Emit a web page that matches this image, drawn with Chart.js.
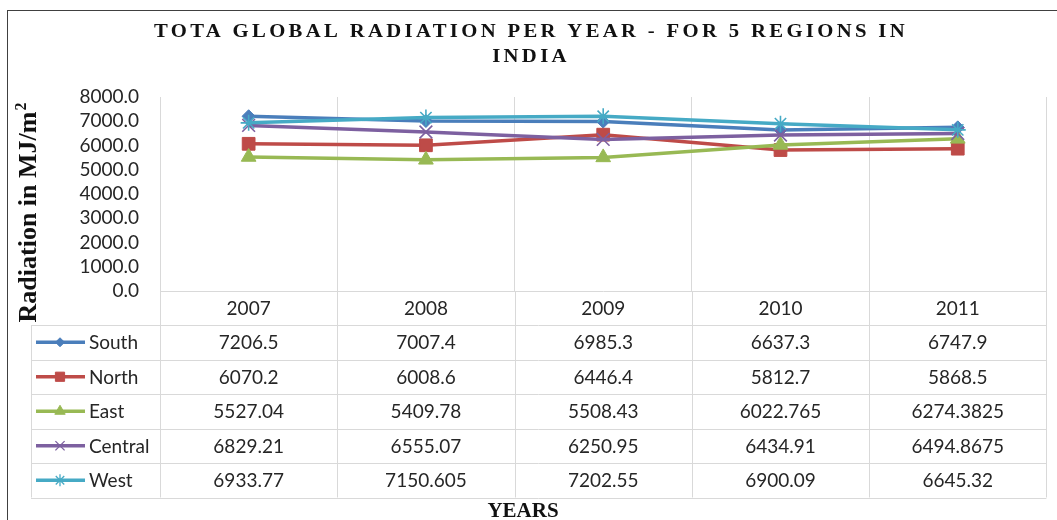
<!DOCTYPE html>
<html>
<head>
<meta charset="utf-8">
<title>Tota global radiation per year</title>
<script src="https://cdn.jsdelivr.net/npm/chart.js@4.4.0/dist/chart.umd.min.js"></script>
<style>
  body { margin: 0; background: #fff; }
  #wrap { width: 1057px; height: 520px; }
</style>
</head>
<body>
<div id="wrap"><canvas id="radChart" width="1057" height="520"></canvas></div>
<script>
const years = ['2007', '2008', '2009', '2010', '2011'];
const regions = ['South', 'North', 'East', 'Central', 'West'];
const south = [7206.5, 7007.4, 6985.3, 6637.3, 6747.9];
const north = [6070.2, 6008.6, 6446.4, 5812.7, 5868.5];
const east = [5527.04, 5409.78, 5508.43, 6022.765, 6274.3825];
const central = [6829.21, 6555.07, 6250.95, 6434.91, 6494.8675];
const west = [6933.77, 7150.605, 7202.55, 6900.09, 6645.32];
const yTicks = [0, 1000, 2000, 3000, 4000, 5000, 6000, 7000, 8000];

const seriesValues = [south, north, east, central, west];
const colors = ['#4A7EBB', '#BE4B48', '#98B954', '#7D60A0', '#46AAC5'];
const markers = ['rectRot', 'rect', 'triangle', 'crossRot', 'star'];
const markerSize = [6.5, 9, 8.5, 9, 8];
const keySize = [4.5, 6.5, 6, 6.5, 6];

const textFont = '"Lato", "Liberation Sans", sans-serif';
const serifFont = '"Liberation Serif", "DejaVu Serif", serif';
const textColor = '#262626';
const tableLine = '#D9D9D9';

const isLineMarker = m => m === 'crossRot' || m === 'star';

const datasets = regions.map((name, i) => ({
    label: name,
    data: seriesValues[i],
    borderColor: colors[i],
    backgroundColor: colors[i],
    borderWidth: 3.5,
    pointStyle: markers[i],
    pointRadius: markerSize[i],
    pointHoverRadius: markerSize[i],
    pointBorderWidth: isLineMarker(markers[i]) ? 1.6 : 1,
    pointBackgroundColor: colors[i],
    pointBorderColor: colors[i],
    tension: 0,
    order: regions.length - i   // West fica por cima, como no Excel
}));

// titulos, borda externa e tabela de dados
const tablePlugin = {
    id: 'dataTable',
    afterDraw(chart) {
        const ctx = chart.ctx;
        const area = chart.chartArea;
        const xs = chart.scales.x;
        const headerH = 34;
        const rowH = 34.5;
        const tableLeft = 31;
        const top = area.bottom;
        const bottom = top + headerH + rowH * regions.length;

        ctx.save();

        // borda externa
        ctx.strokeStyle = '#404040';
        ctx.lineWidth = 1;
        ctx.strokeRect(7.5, 10.5, 1060, 530);

        // linhas da tabela
        ctx.strokeStyle = tableLine;
        ctx.lineWidth = 1;
        ctx.beginPath();
        for (let r = 0; r <= regions.length; r++) {
            const y = Math.round(top + headerH + r * rowH) + 0.5;
            ctx.moveTo(tableLeft, y);
            ctx.lineTo(area.right, y);
        }
        const colW = (area.right - area.left) / years.length;
        for (let c = 0; c <= years.length; c++) {
            const x = Math.round(area.left + c * colW) + 0.5;
            ctx.moveTo(x, top);
            ctx.lineTo(x, bottom);
        }
        ctx.moveTo(tableLeft + 0.5, top + headerH);
        ctx.lineTo(tableLeft + 0.5, bottom);
        ctx.stroke();

        // cabecalho com os anos
        ctx.fillStyle = textColor;
        ctx.font = '19px ' + textFont;
        ctx.textAlign = 'center';
        ctx.textBaseline = 'middle';
        years.forEach((yr, c) => {
            ctx.fillText(yr, xs.getPixelForValue(c), top + headerH / 2 + 1);
        });

        // linhas com legenda e valores
        regions.forEach((name, r) => {
            const cy = top + headerH + r * rowH + rowH / 2;
            ctx.strokeStyle = colors[r];
            ctx.fillStyle = colors[r];
            ctx.lineWidth = 3.5;
            ctx.beginPath();
            ctx.moveTo(36, cy);
            ctx.lineTo(85, cy);
            ctx.stroke();
            ctx.lineWidth = isLineMarker(markers[r]) ? 1.3 : 1;
            Chart.helpers.drawPoint(ctx, {
                pointStyle: markers[r],
                radius: keySize[r],
                rotation: 0,
                borderWidth: ctx.lineWidth
            }, 60, cy);

            ctx.fillStyle = textColor;
            ctx.textAlign = 'left';
            ctx.fillText(name, 89, cy + 1);
            ctx.textAlign = 'center';
            seriesValues[r].forEach((v, c) => {
                ctx.fillText(String(v), xs.getPixelForValue(c), cy + 1);
            });
        });

        // titulo principal (letras mais largas e espacadas)
        ctx.save();
        ctx.fillStyle = '#111';
        ctx.font = 'bold 18px ' + serifFont;
        ctx.letterSpacing = '2.9px';
        ctx.textAlign = 'center';
        ctx.textBaseline = 'alphabetic';
        ctx.translate(531, 0);
        ctx.scale(1.15, 1);
        ctx.fillText('TOTA GLOBAL RADIATION PER YEAR - FOR 5 REGIONS IN', 0, 37);
        ctx.fillText('INDIA', 0, 62);
        ctx.restore();

        // titulo do eixo x
        ctx.fillStyle = '#111';
        ctx.textAlign = 'center';
        ctx.textBaseline = 'alphabetic';
        ctx.font = 'bold 21px ' + serifFont;
        ctx.fillText('YEARS', 523, 517);

        // titulo do eixo y (com expoente)
        ctx.translate(36, 213);
        ctx.rotate(-Math.PI / 2);
        ctx.font = 'bold 26px ' + serifFont;
        const main = 'Radiation in MJ/m';
        const wMain = ctx.measureText(main).width;
        ctx.font = 'bold 16px ' + serifFont;
        const wSup = ctx.measureText('2').width;
        const x0 = -(wMain + wSup) / 2;
        ctx.font = 'bold 26px ' + serifFont;
        ctx.textAlign = 'left';
        ctx.fillText(main, x0, 0);
        ctx.font = 'bold 16px ' + serifFont;
        ctx.fillText('2', x0 + wMain + 1, -10);

        ctx.restore();
    }
};

const ctx = document.getElementById('radChart').getContext('2d');
const radChart = new Chart(ctx, {
    type: 'line',
    data: {
        labels: years,
        datasets: datasets
    },
    options: {
        responsive: false,
        animation: false,
        events: [],
        layout: {
            padding: { top: 97, right: 10, bottom: 229, left: 0 }
        },
        plugins: {
            legend: { display: false },
            title: { display: false },
            tooltip: { enabled: false }
        },
        scales: {
            x: {
                offset: true,
                grid: {
                    offset: true,
                    color: tableLine,
                    drawTicks: false
                },
                border: { display: true, color: tableLine },
                ticks: { display: false },
                afterFit: s => { s.height = 0; }
            },
            y: {
                min: yTicks[0],
                max: yTicks[yTicks.length - 1],
                afterBuildTicks: s => { s.ticks = yTicks.map(v => ({ value: v })); },
                grid: { display: false, drawTicks: false },
                border: { display: false },
                ticks: {
                    autoSkip: false,
                    padding: 21,
                    color: textColor,
                    font: { family: textFont, size: 19 },
                    callback: v => v.toFixed(1)
                },
                afterFit: s => { s.width = 160; }
            }
        }
    },
    plugins: [tablePlugin]
});
</script>
</body>
</html>
